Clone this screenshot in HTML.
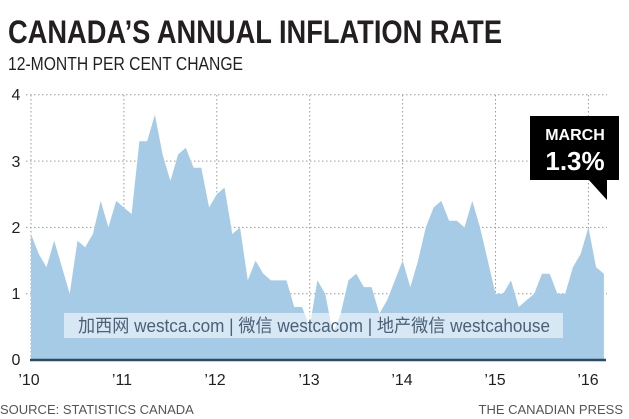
<!DOCTYPE html>
<html><head><meta charset="utf-8"><style>
html,body{margin:0;padding:0;background:#fff;}
svg{display:block;font-family:"Liberation Sans","Noto Sans CJK SC",sans-serif;}
</style></head><body>
<svg id="s" width="629" height="419" viewBox="0 0 629 419" xmlns="http://www.w3.org/2000/svg">
<rect width="629" height="419" fill="#fff"/>
<text x="8" y="43" font-size="32" font-weight="bold" fill="#231f20" textLength="494" lengthAdjust="spacingAndGlyphs">CANADA’S ANNUAL INFLATION RATE</text>
<text x="8" y="70" font-size="18" fill="#231f20" textLength="235" lengthAdjust="spacingAndGlyphs">12-MONTH PER CENT CHANGE</text>
<g id="grid" stroke="#9a9a9a" stroke-width="1" stroke-dasharray="1.5,2.5"></g>
<polygon id="area" fill="#a6cbe6"/>
<line x1="30" y1="360" x2="606" y2="360" stroke="#2b4a66" stroke-width="2.5"/>
<g font-size="16" fill="#231f20">
<text x="16" y="100" text-anchor="middle">4</text>
<text x="16" y="167" text-anchor="middle">3</text>
<text x="16" y="233" text-anchor="middle">2</text>
<text x="16" y="299" text-anchor="middle">1</text>
<text x="16" y="365" text-anchor="middle">0</text>
<text x="29" y="385" text-anchor="middle">’10</text>
<text x="122" y="385" text-anchor="middle">’11</text>
<text x="215" y="385" text-anchor="middle">’12</text>
<text x="309" y="385" text-anchor="middle">’13</text>
<text x="402" y="385" text-anchor="middle">’14</text>
<text x="495" y="385" text-anchor="middle">’15</text>
<text x="588" y="385" text-anchor="middle">’16</text>
</g>
<rect x="64" y="313" width="499" height="25" fill="#ffffff" fill-opacity="0.55"/>
<text x="78" y="332" font-size="18" fill="#4a6178" textLength="472" lengthAdjust="spacingAndGlyphs">加西网 westca.com | 微信 westcacom | 地产微信 westcahouse</text>
<rect x="530" y="116" width="89" height="64" fill="#000"/>
<polygon points="588,179 607,179 607,200" fill="#000"/>
<text x="575" y="140" font-size="16" font-weight="bold" fill="#fff" text-anchor="middle">MARCH</text>
<text x="575" y="170" font-size="26" font-weight="bold" fill="#fff" text-anchor="middle">1.3%</text>
<text x="0" y="414" font-size="13" fill="#555">SOURCE: STATISTICS CANADA</text>
<text x="623" y="414" font-size="13" fill="#555" text-anchor="end">THE CANADIAN PRESS</text>
</svg>
<script>
var d=[1.9,1.6,1.4,1.8,1.4,1.0,1.8,1.7,1.9,2.4,2.0,2.4,
2.3,2.2,3.3,3.3,3.7,3.1,2.7,3.1,3.2,2.9,2.9,2.3,
2.5,2.6,1.9,2.0,1.2,1.5,1.3,1.2,1.2,1.2,0.8,0.8,
0.5,1.2,1.0,0.4,0.7,1.2,1.3,1.1,1.1,0.7,0.9,1.2,
1.5,1.1,1.5,2.0,2.3,2.4,2.1,2.1,2.0,2.4,2.0,1.5,
1.0,1.0,1.2,0.8,0.9,1.0,1.3,1.3,1.0,1.0,1.4,1.6,
2.0,1.4,1.3];
var x0=31,dx=92.9/12,y0=360,k=66.3;
var p=[x0+","+y0];
d.forEach(function(v,i){p.push((x0+i*dx).toFixed(1)+","+(y0-v*k).toFixed(1));});
p.push((x0+(d.length-1)*dx).toFixed(1)+","+y0);
document.getElementById("area").setAttribute("points",p.join(" "));
var g=document.getElementById("grid"),ns="http://www.w3.org/2000/svg";
for(var j=1;j<=4;j++){var l=document.createElementNS(ns,"line");var y=y0-j*k;
l.setAttribute("x1",26);l.setAttribute("x2",607);l.setAttribute("y1",y);l.setAttribute("y2",y);g.appendChild(l);}
for(var j=0;j<=6;j++){var l=document.createElementNS(ns,"line");var x=x0+j*92.9;
l.setAttribute("x1",x);l.setAttribute("x2",x);l.setAttribute("y1",95);l.setAttribute("y2",360);g.appendChild(l);}
</script>
</body></html>
